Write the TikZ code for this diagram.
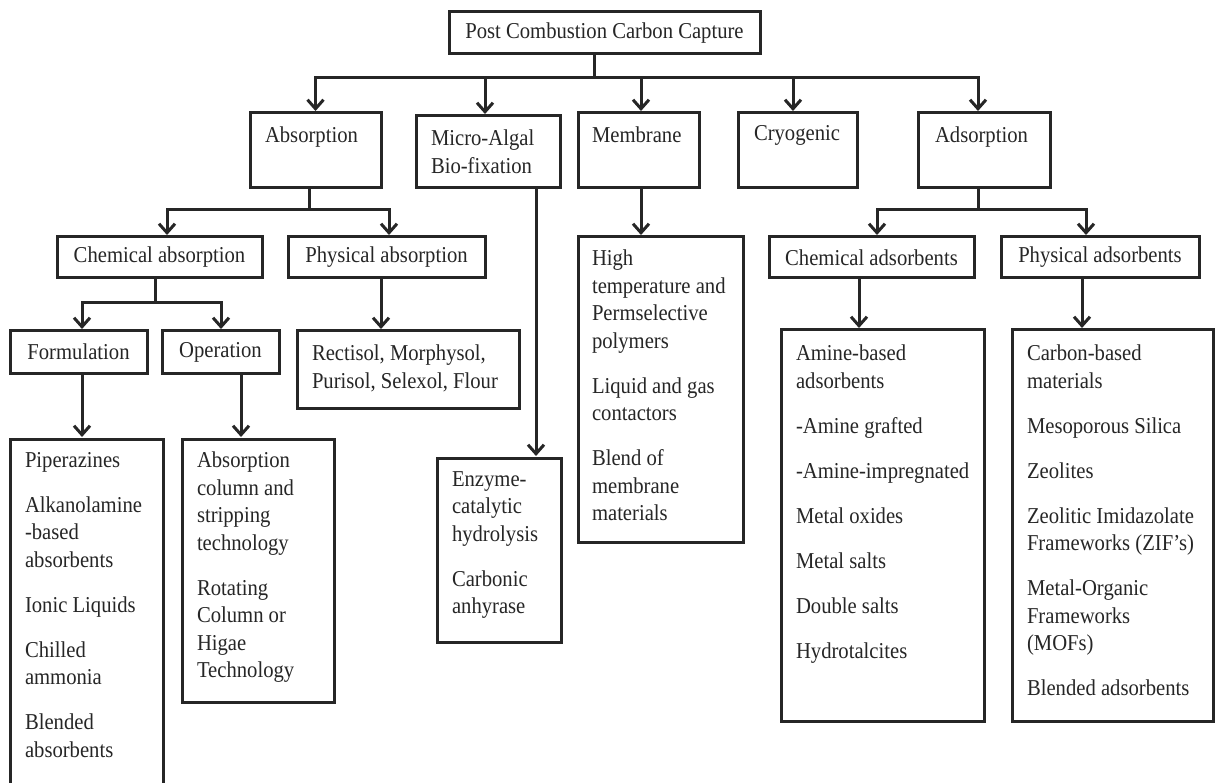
\documentclass[tikz,border=0pt]{standalone}
\usepackage{fontspec}
\setmainfont{Liberation Serif}[FakeStretch=0.91]
\usetikzlibrary{arrows.meta}
\newcommand{\fl}{\rule{0pt}{15pt}}
\begin{document}
\begin{tikzpicture}[x=1pt,y=-1pt,
  fnt/.style={font=\fontsize{22.7pt}{27.5pt}\selectfont},
  box/.style={draw=black!85, line width=3pt, inner sep=0pt, outer sep=0pt, anchor=north west, fnt, text=black!85},
  txt/.style={fnt, inner sep=0pt, outer sep=0pt, align=left, anchor=north west, text=black!85},
  ln/.style={line width=3pt, draw=black!85},
  arr/.style={line width=3pt, draw=black!85, -{Straight Barb[length=9pt,width=16pt]}, shorten >=2pt},
]
\useasboundingbox (0,0) rectangle (1215,783);
\fill[white] (0,0) rectangle (1215,783);
\clip (0,0) rectangle (1215,783);

% top
\node[box, anchor=center, minimum width=311pt, minimum height=42pt] (top) at (604.5,33) {Post Combustion Carbon Capture};

% level 1
\node[box, minimum width=131pt, minimum height=75pt] (absB) at (250,113) {};
\node[txt] (absT) at (265,127) {\fl Absorption};
\node[box, minimum width=144pt, minimum height=72pt] (alg) at (416,116) {};
\node[txt] (algT) at (431,130) {\fl Micro-Algal\\Bio-fixation};
\node[box, minimum width=121pt, minimum height=75pt] (memB) at (578,113) {};
\node[txt] (memT) at (592,127) {\fl Membrane};
\node[box, minimum width=119pt, minimum height=75pt] (cryB) at (738,113) {};
\node[txt] (cryT) at (754,125) {\fl Cryogenic};
\node[box, minimum width=132pt, minimum height=75pt] (adsB) at (918,113) {};
\node[txt] (adsT) at (935,127) {\fl Adsorption};

% level 2
\node[box, minimum width=205pt, minimum height=41pt] (chemAbs) at (57,237) {Chemical absorption};
\node[box, minimum width=197pt, minimum height=41pt] (physAbs) at (288,237) {Physical absorption};
\node[box, minimum width=205pt, minimum height=41pt] (chemAds) at (769,237) {Chemical adsorbents};
\node[box, minimum width=198pt, minimum height=41pt] (physAds) at (1001,237) {Physical adsorbents};

% membrane list
\node[box, minimum width=165pt, minimum height=305pt] (memL) at (578,237) {};
\node[txt] (memLT) at (592,250) {\fl High\\temperature and\\Permselective\\polymers\\[17.5pt]Liquid and gas\\contactors\\[17.5pt]Blend of\\membrane\\materials};

% level 3
\node[box, minimum width=137pt, minimum height=42pt] (form) at (10,331) {Formulation};
\node[box, minimum width=117pt, minimum height=42pt] (oper) at (162,331) {Operation};
\node[box, minimum width=222pt, minimum height=77pt] (rect) at (297,331) {};
\node[txt] (rectT) at (312,345) {\fl Rectisol, Morphysol,\\Purisol, Selexol, Flour};

% adsorbent lists
\node[box, minimum width=203pt, minimum height=391pt] (chemAdsL) at (781,330) {};
\node[txt] (chemAdsLT) at (796,345) {\fl Amine-based\\adsorbents\\[17.5pt]-Amine grafted\\[17.5pt]-Amine-impregnated\\[17.5pt]Metal oxides\\[17.5pt]Metal salts\\[17.5pt]Double salts\\[17.5pt]Hydrotalcites};
\node[box, minimum width=201pt, minimum height=391pt] (physAdsL) at (1012,330) {};
\node[txt] (physAdsLT) at (1027,345) {\fl Carbon-based\\materials\\[17.5pt]Mesoporous Silica\\[17.5pt]Zeolites\\[17.5pt]Zeolitic Imidazolate\\Frameworks (ZIF’s)\\[17.5pt]Metal-Organic\\Frameworks\\(MOFs)\\[17.5pt]Blended adsorbents};

% absorption lists
\node[box, minimum width=153pt, minimum height=361pt] (formL) at (10,439) {};
\node[txt] (formLT) at (25,452) {\fl Piperazines\\[17.5pt]Alkanolamine\\-based\\absorbents\\[17.5pt]Ionic Liquids\\[17.5pt]Chilled\\ammonia\\[17.5pt]Blended\\absorbents};
\node[box, minimum width=152pt, minimum height=263pt] (operL) at (182,439) {};
\node[txt] (operLT) at (197,452) {\fl Absorption\\column and\\stripping\\technology\\[17.5pt]Rotating\\Column or\\Higae\\Technology};
\node[box, minimum width=124pt, minimum height=184pt] (enzL) at (437,458) {};
\node[txt] (enzLT) at (452,471) {\fl Enzyme-\\catalytic\\hydrolysis\\[17.5pt]Carbonic\\anhyrase};

% connectors: top
\draw[ln] ([xshift=-10.5pt]top.south) -- ++(0,24) coordinate (b0);
\draw[arr] (b0) -| (absB.north);
\draw[arr] (b0) -| ([xshift=-3pt]alg.north);
\draw[arr] (b0) -| ([xshift=2.5pt]memB.north);
\draw[arr] (b0) -| ([xshift=-4.5pt]cryB.north);
\draw[arr] (b0) -| ([xshift=-6pt]adsB.north);

% absorption
\draw[ln] ([xshift=-6.5pt]absB.south) -- ++(0,22) coordinate (b1);
\draw[arr] (b1) -| ([xshift=7.5pt]chemAbs.north);
\draw[arr] (b1) -| ([xshift=2.5pt]physAbs.north);

% chemical absorption
\draw[ln] ([xshift=-4.5pt]chemAbs.south) -- ++(0,25) coordinate (b3);
\draw[arr] (b3) -| ([xshift=3.5pt]form.north);
\draw[arr] (b3) -| ([xshift=0.5pt]oper.north);
\draw[arr] ([xshift=-5.5pt]physAbs.south) -- ([xshift=-5.5pt]physAbs.south |- rect.north);
\draw[arr] ([xshift=3.5pt]form.south) -- ([xshift=3.5pt]form.south |- formL.north);
\draw[arr] ([xshift=20.5pt]oper.south) -- ([xshift=20.5pt]oper.south |- operL.north);

% micro-algal, membrane
\draw[arr] ([xshift=48pt]alg.south) -- ([xshift=48pt]alg.south |- enzL.north);
\draw[arr] ([xshift=2.5pt]memB.south) -- ([xshift=2.5pt]memB.south |- memL.north);

% adsorption
\draw[ln] ([xshift=-6pt]adsB.south) -- ++(0,22) coordinate (b2);
\draw[arr] (b2) -| ([xshift=5.5pt]chemAds.north);
\draw[arr] (b2) -| ([xshift=-14pt]physAds.north);
\draw[arr] ([xshift=-12.5pt]chemAds.south) -- ([xshift=-12.5pt]chemAds.south |- chemAdsL.north);
\draw[arr] ([xshift=-18pt]physAds.south) -- ([xshift=-18pt]physAds.south |- physAdsL.north);
\end{tikzpicture}
\end{document}
